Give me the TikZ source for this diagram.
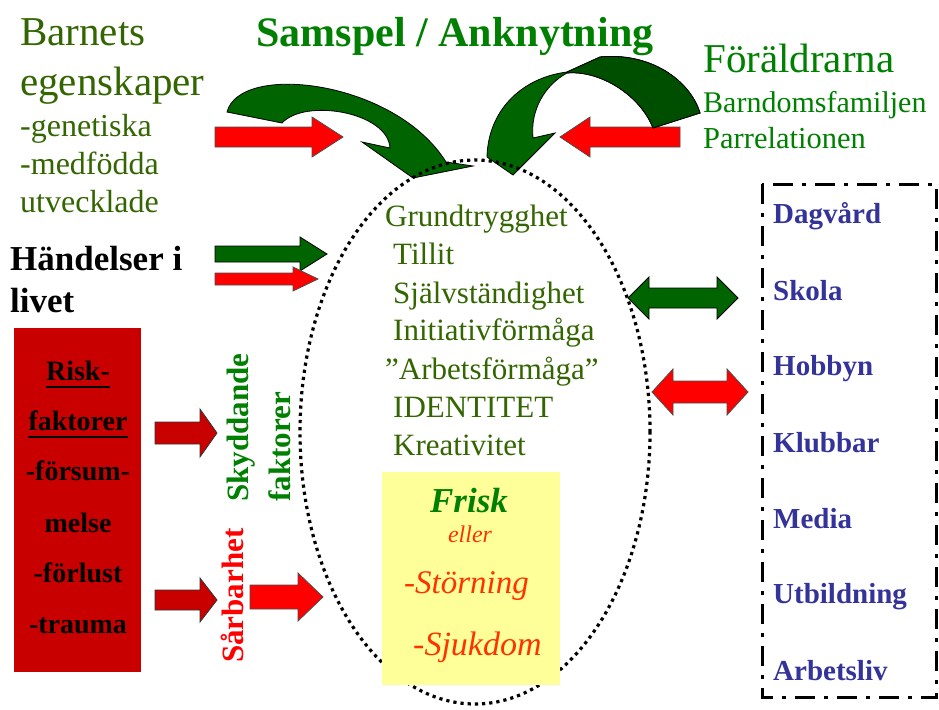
\documentclass[tikz,border=0pt]{standalone}
\usepackage{fontspec}
\setmainfont{Liberation Serif}
\usetikzlibrary{shapes.geometric}

\definecolor{barngreen}{RGB}{51,102,0}
\definecolor{titlegreen}{RGB}{0,128,0}
\definecolor{arrowgreen}{RGB}{0,100,0}
\definecolor{fargreen}{RGB}{0,78,0}
\definecolor{riskred}{RGB}{200,0,0}
\definecolor{listblue}{RGB}{51,51,153}
\definecolor{sickred}{RGB}{255,51,0}
\definecolor{paleyellow}{RGB}{255,255,153}

\newcommand{\fsz}[1]{\fontsize{#1}{#1}\selectfont}

% block arrow: [style]{tail x}{tip x}{y}{shaft half}{head half}{head length}
\newcommand{\blockarrow}[7][]{%
  \draw[#1] (#2,{#4-#5}) -- ({#3-#7},{#4-#5}) -- ({#3-#7},{#4-#6})
    -- (#3,#4) -- ({#3-#7},{#4+#6}) -- ({#3-#7},{#4+#5}) -- (#2,{#4+#5}) -- cycle;}
% double arrow: [style]{left tip x}{right tip x}{y}{shaft half}{head half}{head length}
\newcommand{\dblarrow}[7][]{%
  \draw[#1] (#2,#4) -- ({#2+#7},{#4-#6}) -- ({#2+#7},{#4-#5}) -- ({#3-#7},{#4-#5})
    -- ({#3-#7},{#4-#6}) -- (#3,#4) -- ({#3-#7},{#4+#6}) -- ({#3-#7},{#4+#5})
    -- ({#2+#7},{#4+#5}) -- ({#2+#7},{#4+#6}) -- cycle;}

\tikzset{
  txt/.style={inner sep=0pt, anchor=base west},
  bigtxt/.style={txt, text=barngreen, font=\fsz{41}},
  smalltxt/.style={txt, text=barngreen, font=\fsz{32}},
  coretxt/.style={txt, text=barngreen, font=\fsz{31}},
  listtxt/.style={txt, text=listblue, font=\bfseries\fsz{29}},
  risktxt/.style={inner sep=0pt, anchor=base, font=\bfseries\fsz{28}},
  redarr/.style={fill=red, draw=black!70, line width=0.8pt},
  darkredarr/.style={fill=riskred, draw=black!80, line width=0.8pt},
  greenarr/.style={fill=arrowgreen, draw=black, line width=0.8pt},
}

\begin{document}
\begin{tikzpicture}[x=1pt,y=-1pt]
\useasboundingbox[fill=white] (0,0) rectangle (939,709);

% headings
\node[inner sep=0pt, anchor=base, text=titlegreen, font=\bfseries\fsz{42}] (title) at (455,47) {Samspel / Anknytning};
\node[bigtxt] (barnets) at (20,46) {Barnets};
\node[bigtxt] (egensk) at (20,95) {egenskaper};
\node[smalltxt] (genet) at (20,136) {-genetiska};
\node[smalltxt] (medf) at (20,174) {-medfödda};
\node[smalltxt] (utveck) at (20,212) {utvecklade};
\node[bigtxt, text=titlegreen] (foraldrar) at (703,72) {Föräldrarna};
\node[smalltxt, text=titlegreen, font=\fsz{30}] (barndom) at (703,112) {Barndomsfamiljen};
\node[smalltxt, text=titlegreen, font=\fsz{30.5}] (parrel) at (703,148) {Parrelationen};
\node[txt, font=\bfseries\fsz{35}] (handelser) at (10,270) {Händelser i};
\node[txt, font=\bfseries\fsz{35}] (livet) at (10,312) {livet};

% straight arrows
\blockarrow[redarr]{215}{343}{137}{10}{20}{31}
\blockarrow[redarr]{680}{560}{137}{10}{20}{-30}
\blockarrow[greenarr]{215}{327}{254}{8}{17}{27}
\blockarrow[redarr]{215}{318}{279}{6}{12}{25}
\blockarrow[darkredarr]{155}{217}{433}{11}{24}{17}
\blockarrow[darkredarr]{155}{217}{600}{10}{22}{17}
\blockarrow[redarr]{250}{323}{597}{12}{24}{25}
\dblarrow[greenarr]{628}{738}{298}{10}{21}{21}
\dblarrow[redarr]{652}{748}{392}{11}{23}{21}

% curved arrows
\draw[greenarr] (227,112) .. controls (240,62) and (395,80) .. (446,162) -- (473,166)
  -- (413,178) -- (362,142) -- (390,148) .. controls (388,112) and (305,98) .. (282,123) -- cycle;
\draw[greenarr] (513,175) -- (487,157) .. controls (488,112) and (520,78) .. (567,72) -- (600,57)
  .. controls (650,52) and (690,80) .. (700,113) -- (653,128) .. controls (640,95) and (600,70) .. (567,73)
  .. controls (545,85) and (530,110) .. (533,138) -- (555,133) -- cycle;
\draw[greenarr, fill=fargreen] (567,72) -- (600,57) .. controls (650,52) and (690,80) .. (700,113)
  -- (653,128) .. controls (640,95) and (600,70) .. (567,73) -- cycle;

% core ellipse
\node[ellipse, draw, line width=3.2pt, dash pattern=on 3.2pt off 4pt, minimum width=350pt, minimum height=544pt, inner sep=0pt] (core) at (475,432) {};
\foreach \txt/\xx/\yy [count=\i] in {Grundtrygghet/385/226, Tillit/393/264, Självständighet/393/303,
    Initiativförmåga/393/340, ”Arbetsförmåga”/385/379, IDENTITET/393/417, Kreativitet/393/455}
  \node[coretxt] (core\i) at (\xx,\yy) {\txt};

% outcome box
\node[fill=paleyellow, minimum width=178pt, minimum height=213pt, inner sep=0pt] (health) at (471,578) {};
\node[inner sep=0pt, anchor=base, text=titlegreen, font=\bfseries\itshape\fsz{35}] (frisk) at (469,512) {Frisk};
\node[inner sep=0pt, anchor=base, text=sickred, font=\itshape\fsz{24}] (eller) at (470,542) {eller};
\node[txt, text=sickred, font=\itshape\fsz{33}] (storning) at (404,593) {-Störning};
\node[txt, text=sickred, font=\itshape\fsz{34}] (sjukdom) at (413,655) {-Sjukdom};

% risk factors
\node[fill=riskred, minimum width=127pt, minimum height=344pt, inner sep=0pt] (riskbox) at (77.5,500) {};
\foreach \txt/\yy [count=\i] in {Risk-/380, faktorer/430, -försum-/480, melse/532, -förlust/582, -trauma/633}
  \node[risktxt] (risk\i) at (78,\yy) {\txt};
\draw[line width=2.5pt] ([yshift=-7pt]risk1.base west) -- ([yshift=-7pt]risk1.base east);
\draw[line width=2.5pt] ([yshift=-7pt]risk2.base west) -- ([yshift=-7pt]risk2.base east);

\node[txt, rotate=90, text=titlegreen, font=\bfseries\fsz{31}] (skydd) at (248,502) {Skyddande};
\node[txt, rotate=90, text=titlegreen, font=\bfseries\fsz{31}] (faktorer) at (290,502) {faktorer};
\node[txt, rotate=90, text=red, font=\bfseries\fsz{31}] (sarbar) at (243,663) {Sårbarhet};

% surroundings
\draw[line width=3pt, dash pattern=on 20pt off 9pt on 4pt off 9pt] (762,184) rectangle (936.5,697);
\foreach \txt/\yy [count=\i] in {Dagvård/223, Skola/300, Hobbyn/375, Klubbar/452, Media/528, Utbildning/603, Arbetsliv/680}
  \node[listtxt] (arena\i) at (773,\yy) {\txt};
\end{tikzpicture}
\end{document}
